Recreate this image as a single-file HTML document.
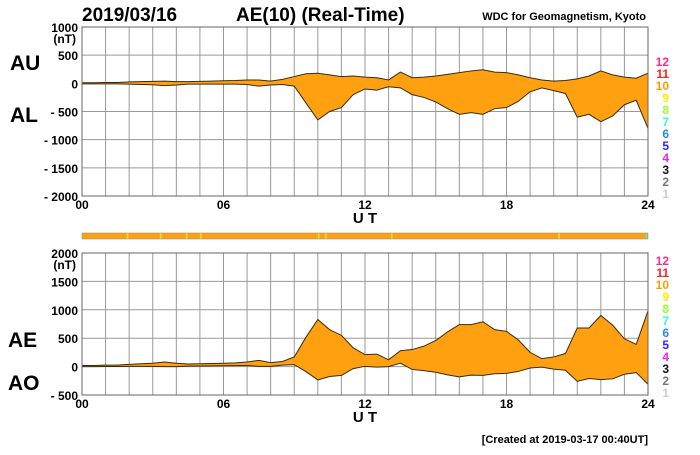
<!DOCTYPE html>
<html><head><meta charset="utf-8"><style>
body{margin:0;background:#fff;width:700px;height:450px;overflow:hidden;font-family:"Liberation Sans",sans-serif}
svg text{font-family:"Liberation Sans",sans-serif;font-weight:bold}
</style></head><body>
<svg id="c" width="700" height="450"></svg>
<script>
const hours=[0,0.5,1,1.5,2,2.5,3,3.5,4,4.5,5,5.5,6,6.5,7,7.5,8,8.5,9,9.5,10,10.5,11,11.5,12,12.5,13,13.5,14,14.5,15,15.5,16,16.5,17,17.5,18,18.5,19,19.5,20,20.5,21,21.5,22,22.5,23,23.5,24];
const auValues=[10,10,15,15,25,30,35,40,30,30,35,40,45,50,60,60,40,70,120,170,180,150,120,130,110,100,60,200,100,110,130,160,190,220,240,200,190,150,100,60,40,50,80,130,220,150,110,90,180];
const alValues=[-10,-10,-10,-10,-15,-20,-25,-40,-30,-15,-15,-15,-15,-15,-20,-50,-30,-20,-50,-350,-650,-500,-430,-200,-100,-120,-60,-80,-200,-250,-330,-450,-550,-520,-550,-450,-430,-320,-150,-80,-130,-180,-600,-550,-680,-580,-380,-300,-800];
const topTicks=[1000,500,0,-500,-1000,-1500,-2000];
const botTicks=[2000,1500,1000,500,0,-500];
const xTicks=[0,6,12,18,24];
const legendNums=[12,11,10,9,8,7,6,5,4,3,2,1];
const legendColors=["#ff2a8a","#ff2020","#ff9a00","#ffee00","#99ff33","#33ffcc","#2288ff","#3322ff","#ee22ee","#111111","#777777","#cccccc"];
const aeValues=auValues.map((u,i)=>u-alValues[i]);
const aoValues=auValues.map((u,i)=>(u+alValues[i])/2);

const NS="http://www.w3.org/2000/svg",svg=document.getElementById('c');
function el(t,a,p){const e=document.createElementNS(NS,t);for(const k in a)e.setAttribute(k,a[k]);(p||svg).appendChild(e);return e;}
function txt(x,y,s,size,anchor,fill){const e=el('text',{x:x,y:y,'font-size':size,'text-anchor':anchor||'start',fill:fill||'#000'});e.textContent=s;return e;}
const X0=82,X1=648;
const xs=h=>X0+(X1-X0)*h/24;

function panel(name,yTop,yBot,vMax,vMin,ticks,upper,lower,legY){
  const ys=v=>yTop+(vMax-v)/(vMax-vMin)*(yBot-yTop);
  const g=el('g',{});
  
  
  for(let h=0;h<=24;h++){const l=el('line',{x1:xs(h),x2:xs(h),y1:yTop,y2:yBot,stroke:'#999','stroke-width':1},g);
    }
  ticks.forEach(t=>{const l=el('line',{x1:X0,x2:X1,y1:ys(t),y2:ys(t),stroke:'#999','stroke-width':1},g);
    
    const lab=txt(X0-4,ys(t)+5,(t<0?'- '+(-t):String(t)),12,'end');
    });
  let pts=hours.map((h,i)=>xs(h)+','+ys(upper[i]));
  let pts2=hours.slice().reverse().map((h,j)=>{const i=hours.length-1-j;return xs(h)+','+ys(lower[i]);});
  const area=el('polygon',{points:pts.concat(pts2).join(' '),fill:'#ffa010',stroke:'none'},g);
  
  const lu=el('polyline',{points:pts.join(' '),fill:'none',stroke:'#3a2a10','stroke-width':1},g);
  
  const ll=el('polyline',{points:pts2.join(' '),fill:'none',stroke:'#3a2a10','stroke-width':1},g);
  
  const fr=el('rect',{x:X0,y:yTop,width:X1-X0,height:yBot-yTop,fill:'none',stroke:'#666','stroke-width':1},g);
  
  xTicks.forEach(h=>{const lab=txt(xs(h),yBot+13,String(h).padStart(2,'0'),12,'middle');
    });
  const ut=txt(365,yBot+27,'U T',15,'middle');
  const nt=txt(X0-6,yTop+16,'(nT)',12,'end');
  legendNums.forEach((n,i)=>{const lab=txt(669,legY+i*12,String(n),12,'end',legendColors[i]);
    });
}
panel('au-al-panel',27,196,1000,-2000,topTicks,auValues,alValues,66);
panel('ae-ao-panel',253,395,2000,-500,botTicks,aeValues,aoValues,265);

let t;
t=txt(82,21,'2019/03/16',19);
t=txt(236,21,'AE(10) (Real-Time)',19);
t=txt(646,20,'WDC for Geomagnetism, Kyoto',11,'end');
t=txt(10,70,'AU',21);
t=txt(10,122,'AL',21);
t=txt(8,347,'AE',21);
t=txt(8,390,'AO',21);
t=txt(648,443,'[Created at 2019-03-17 00:40UT]',11,'end');
t.setAttribute('font-weight','normal');
const bar=el('rect',{x:X0,y:233,width:X1-X0,height:6,fill:'#ffa010',stroke:'#888','stroke-width':0.5});

[1.9,3.3,4.4,5.0,10.0,10.3,13.1,20.2,23.9].forEach(h=>{const s=el('rect',{x:xs(h),y:233.5,width:1.5,height:5,fill:h>23.8?'#33ffcc':'#ffee33'});
  });
</script>
</body></html>
